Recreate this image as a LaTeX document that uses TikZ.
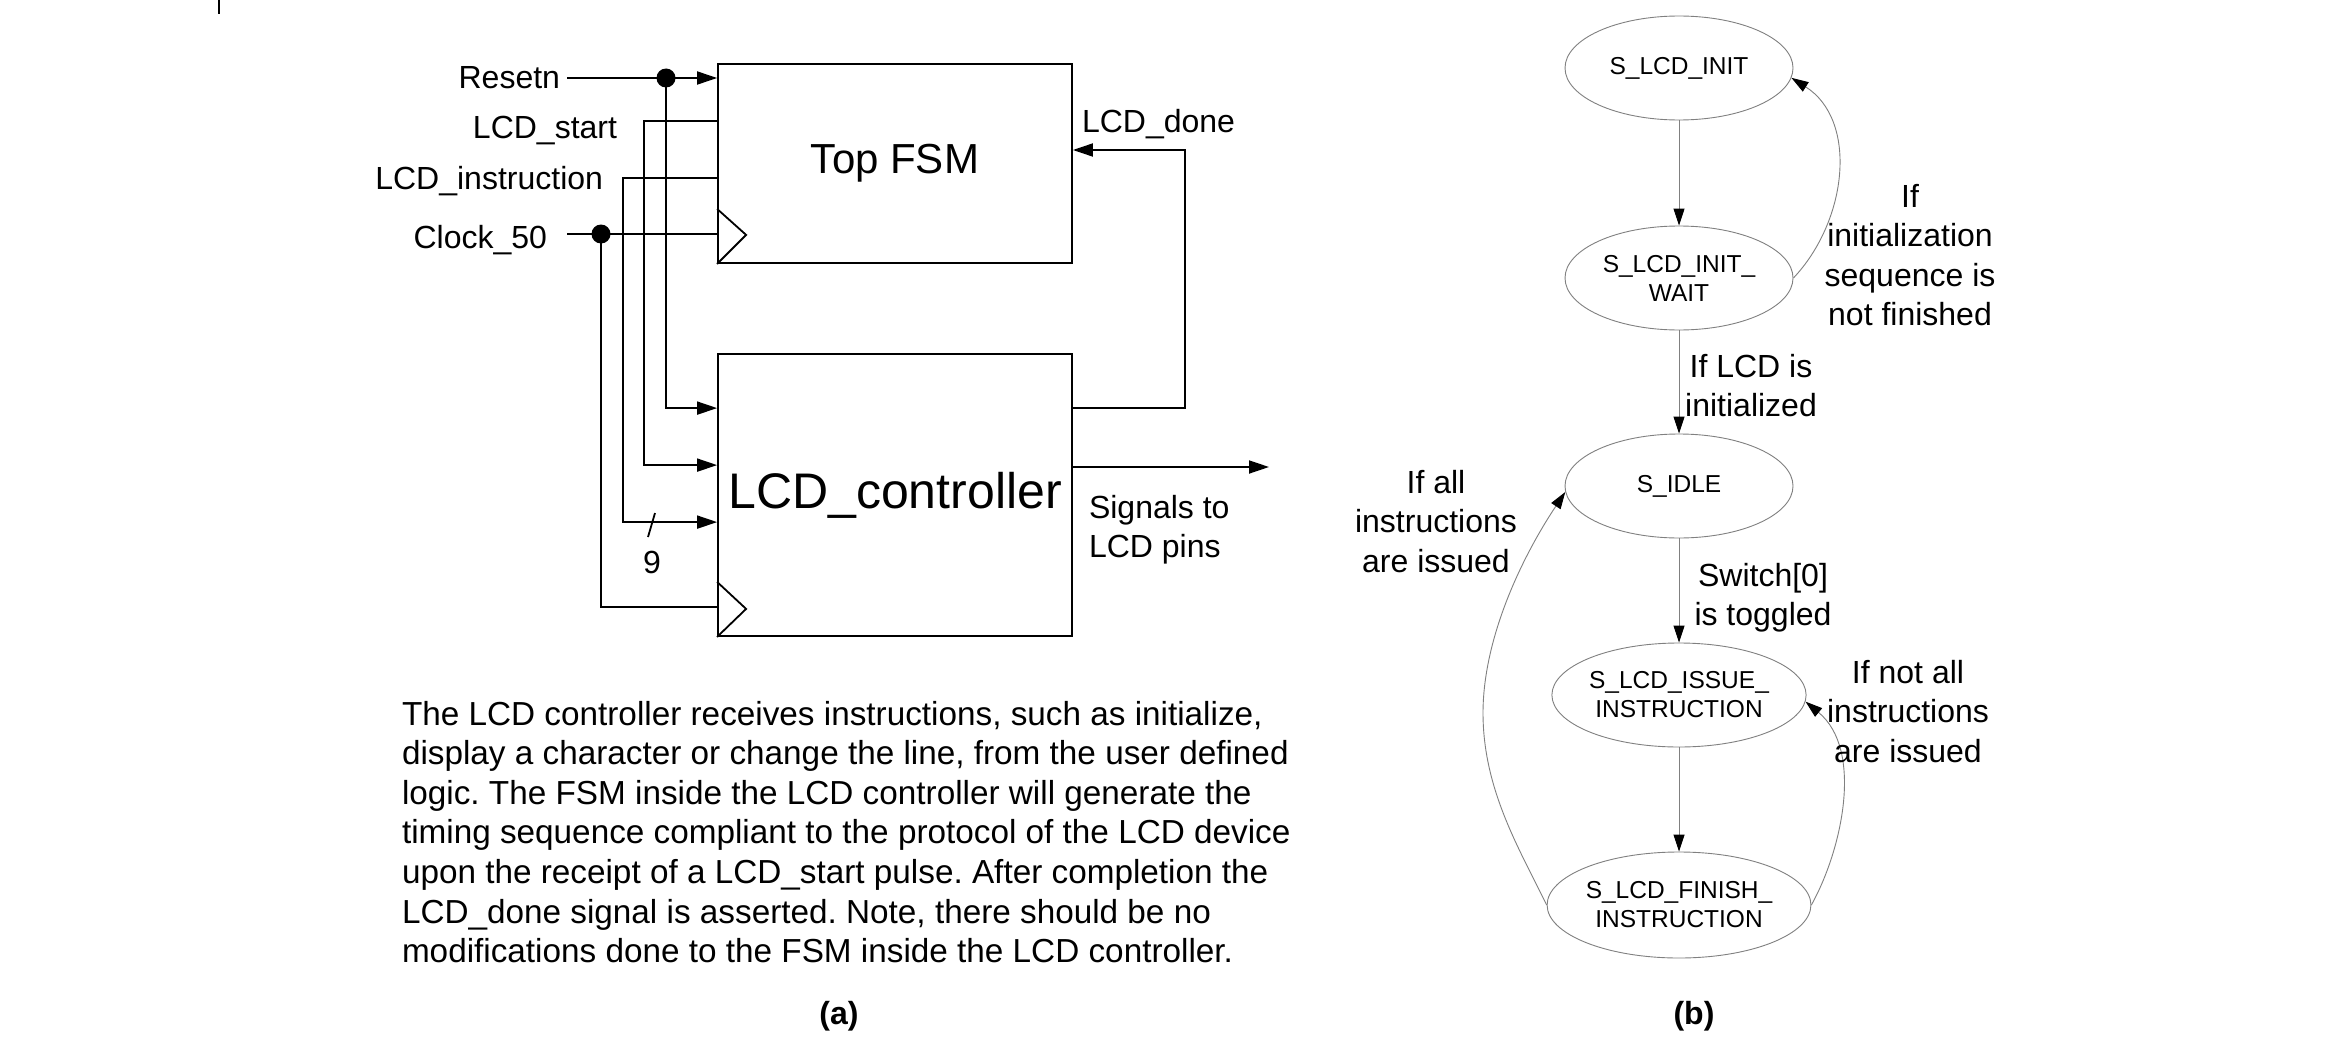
\documentclass[tikz,border=0pt]{standalone}
\usepackage{fontspec}
\setmainfont{Liberation Sans}
\usetikzlibrary{arrows.meta,shapes.geometric,calc}
\definecolor{fsmgray}{RGB}{128,128,128}
\frenchspacing
\begin{document}
\begin{tikzpicture}[x=1pt,y=-1pt,
  lbl/.style={font=\fontsize{32}{39.5}\selectfont, inner sep=0pt, outer sep=0pt},
  block/.style={draw, line width=1.8pt, minimum width=354pt, inner sep=0pt},
  wire/.style={line width=1.8pt},
  warr/.style={-{Triangle[length=20pt,width=13pt]}},
  state/.style={ellipse, draw=fsmgray, line width=0.9pt, minimum width=228pt, minimum height=104pt,
    inner sep=0pt, align=center, font=\fontsize{24.5}{29}\selectfont},
  trans/.style={draw=fsmgray, line width=0.9pt, -{Triangle[length=17pt,width=11pt,color=black]}},
  jdot/.style={fill=black}
]
\fill[white] (0,0) rectangle (2328,1062);
\useasboundingbox (0,0) rectangle (2328,1062);

% stray tick
\draw[line width=2pt] (219,0) -- (219,14);

% ---------- (a) block diagram ----------
\node[block, minimum height=199pt, font=\fontsize{42}{48}\selectfont] (topfsm) at (895,163.5) {Top FSM};
\node[block, minimum height=282pt, font=\fontsize{50}{56}\selectfont] (lcdc) at (895,495) {LCD\_controller};

% clock triangles
\draw[wire, line join=miter] ([yshift=55pt]topfsm.south west) -- ++(29,26) -- (topfsm.south west);
\draw[wire, line join=miter] ([yshift=55pt]lcdc.south west) -- ++(29,27) -- (lcdc.south west);

% labels
\node[lbl, anchor=base east] (resetn) at (560,89) {Resetn};
\node[lbl, anchor=base east] (lcdstart) at (617,139) {LCD\_start};
\node[lbl, anchor=base east] (lcdinstr) at (603,189) {LCD\_instruction};
\node[lbl, anchor=base east] (clock) at (547,248) {Clock\_50};
\node[lbl, anchor=base west] (lcddone) at (1082,132) {LCD\_done};
\node[lbl, anchor=north west, align=left] (signals) at (1089,495) {Signals to\\LCD pins};
\node[lbl, anchor=base] (nine) at (652,573) {9};

% junction / end coordinates
\coordinate (rin) at (567,78);
\coordinate (rj) at (666,78);
\coordinate (sj) at (644,121);
\coordinate (ij) at (623,178);
\coordinate (cin) at (567,234);
\coordinate (cj) at (601,234);
\coordinate (dc) at (1185,150);
\coordinate (pins) at (1269,467);

% Resetn
\draw[wire,warr] (rin) -- (rin -| topfsm.west);
\draw[wire,warr] (rj) |- ([yshift=-55pt]lcdc.north west);
\fill[jdot] (rj) circle[radius=9.5pt];
% LCD_start
\draw[wire,warr] (sj -| topfsm.west) -- (sj) |- ([yshift=-112pt]lcdc.north west);
% LCD_instruction
\draw[wire,warr] (ij -| topfsm.west) -- (ij) |- ([yshift=-169pt]lcdc.north west);
\draw[wire] (648,537) -- (655,513);
% Clock
\draw[wire] (cin) -- (cin -| topfsm.west);
\draw[wire] (cj) |- ([yshift=-254pt]lcdc.north west);
\fill[jdot] (cj) circle[radius=9.5pt];
% LCD_done
\draw[wire,warr] ([yshift=-55pt]lcdc.north east) -| (dc) -- (dc -| topfsm.east);
% output
\draw[wire,warr] (lcdc.east |- pins) -- (pins);

% description
\node[lbl, anchor=north west, align=left, font=\fontsize{33.3}{39.6}\selectfont] (desc) at (402,701)
{The LCD controller receives instructions, such as initialize,\\
display a character or change the line, from the user defined\\
logic. The FSM inside the LCD controller will generate the\\
timing sequence compliant to the protocol of the LCD device\\
upon the receipt of a LCD\_start pulse. After completion the\\
LCD\_done signal is asserted. Note, there should be no\\
modifications done to the FSM inside the LCD controller.};

\node[lbl, anchor=base, font=\bfseries\fontsize{32}{38}\selectfont] (capa) at (839,1024) {(a)};
\node[lbl, anchor=base, font=\bfseries\fontsize{32}{38}\selectfont] (capb) at (1694,1024) {(b)};

% ---------- (b) state diagram ----------
\node[state] (init) at (1679,68) {S\_LCD\_INIT};
\node[state] (wait) at (1679,278) {S\_LCD\_INIT\_\\WAIT};
\node[state] (idle) at (1679,486) {S\_IDLE};
\node[state] (issue) at (1679,695) {S\_LCD\_ISSUE\_\\INSTRUCTION};
\node[state, minimum width=240pt, minimum height=106pt] (finish) at (1679,905) {S\_LCD\_FINISH\_\\INSTRUCTION};

\draw[trans] (init.south) -- (wait.north);
\draw[trans] (wait.south) -- (idle.north);
\draw[trans] (idle.south) -- (issue.north);
\draw[trans] (issue.south) -- (finish.north);
\draw[trans] (wait.east) .. controls (1848,220) and (1858,120) .. (init.-5);
\draw[trans] (finish.east) .. controls (1842,850) and (1864,750) .. (issue.-3);
\draw[trans] (finish.west) .. controls (1520,850) and (1483,790) .. (1483,713)
  .. controls (1483,640) and (1520,560) .. (idle.183);

\node[lbl, anchor=north, align=center] (linit) at (1910,184) {If\\initialization\\sequence is\\not finished};
\node[lbl, anchor=north, align=center] (llcd) at (1751,354) {If LCD is\\initialized};
\node[lbl, anchor=north, align=center] (lsw) at (1763,563) {Switch[0]\\is toggled};
\node[lbl, anchor=north, align=center] (lnot) at (1908,660) {If not all\\instructions\\are issued};
\node[lbl, anchor=north, align=center] (lall) at (1436,470) {If all\\instructions\\are issued};
\end{tikzpicture}
\end{document}
